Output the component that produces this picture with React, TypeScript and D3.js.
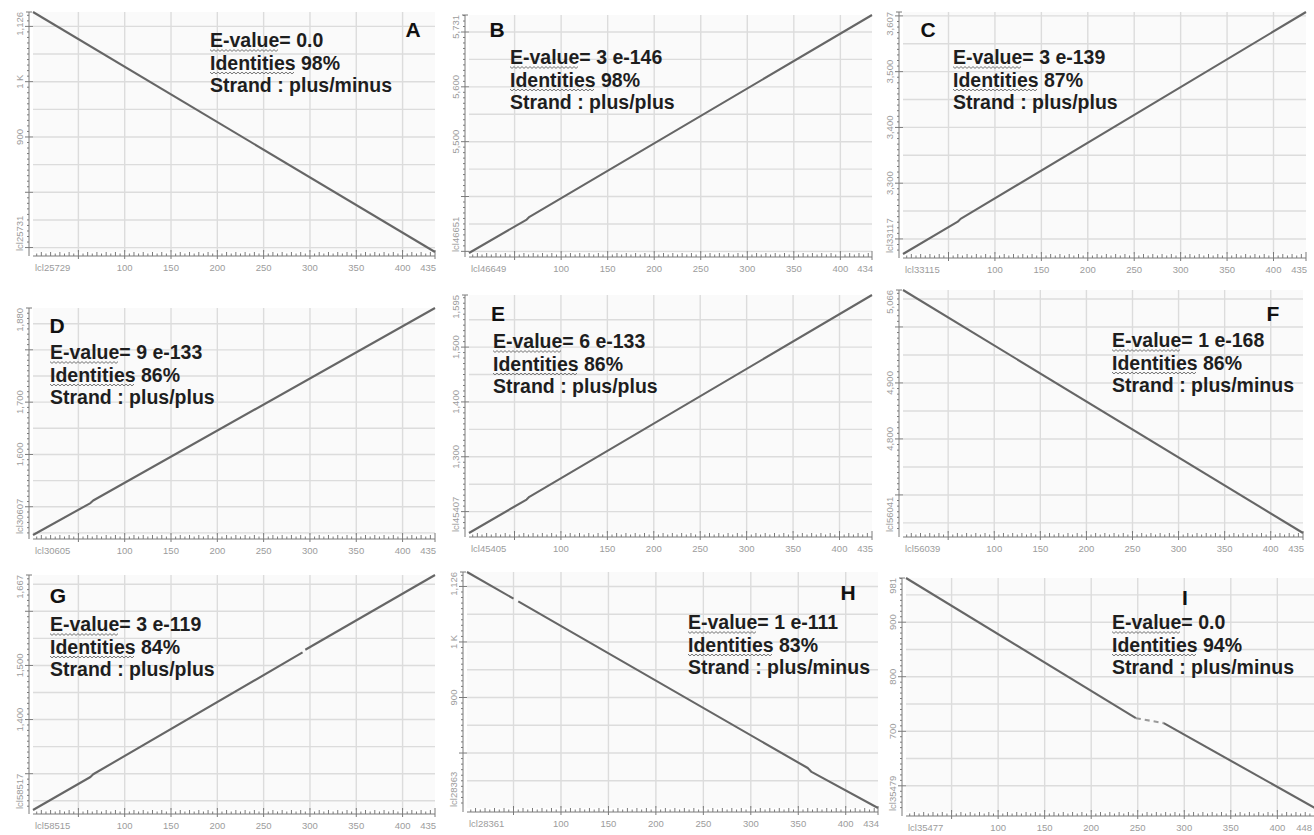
import React, { useEffect, useRef } from "react";
import * as d3 from "d3";

// --- data ---
const panelLetters = ["A", "B", "C", "D", "E", "F", "G", "H", "I"];
const queryNames = ["lcl25729", "lcl46649", "lcl33115", "lcl30605", "lcl45405", "lcl56039", "lcl58515", "lcl28361", "lcl35477"];
const subjectNames = ["lcl25731", "lcl46651", "lcl33117", "lcl30607", "lcl45407", "lcl56041", "lcl58517", "lcl28363", "lcl35479"];
const queryLengths = [435, 434, 435, 435, 435, 435, 435, 434, 448];
const subjectRanges = [
  [692, 1126], [5297, 5731], [3173, 3607],
  [1446, 1880], [1161, 1595], [4632, 5066],
  [1233, 1667], [701, 1126], [552, 981],
];
const subjectTopLabels = ["1,126", "5,731", "3,607", "1,880", "1,595", "5,066", "1,667", "1,126", "981"];
const subjectTicks: [number, string][][] = [
  [[900, "900"], [1000, "1 K"]],
  [[5500, "5,500"], [5600, "5,600"]],
  [[3300, "3,300"], [3400, "3,400"], [3500, "3,500"]],
  [[1600, "1,600"], [1700, "1,700"]],
  [[1300, "1,300"], [1400, "1,400"], [1500, "1,500"]],
  [[4800, "4,800"], [4900, "4,900"]],
  [[1400, "1,400"], [1500, "1,500"]],
  [[900, "900"], [1000, "1 K"]],
  [[700, "700"], [800, "800"], [900, "900"]],
];
const eValues = ["0.0", "3 e-146", "3 e-139", "9 e-133", "6 e-133", "1 e-168", "3 e-119", "1 e-111", "0.0"];
const identities = [98, 98, 87, 86, 86, 86, 84, 83, 94];
const strands = ["plus/minus", "plus/plus", "plus/plus", "plus/plus", "plus/plus", "plus/minus", "plus/plus", "plus/minus", "plus/minus"];
// aligned runs (query pos, subject pos); separate runs leave a gap
type Run = { points: [number, number][]; dashed?: boolean };
const alignments: Run[][] = [
  [{ points: [[1, 1126], [435, 692]] }],
  [{ points: [[1, 5297], [63, 5358], [66, 5363], [434, 5731]] }],
  [{ points: [[1, 3173], [60, 3231], [63, 3236], [435, 3607]] }],
  [{ points: [[1, 1446], [63, 1507], [66, 1512], [435, 1880]] }],
  [{ points: [[1, 1161], [63, 1222], [66, 1227], [435, 1595]] }],
  [{ points: [[1, 5066], [435, 4632]] }],
  [
    { points: [[1, 1233], [63, 1294], [66, 1299], [292, 1524]] },
    { points: [[295, 1529], [435, 1667]] },
  ],
  [
    { points: [[1, 1126], [50, 1078]] },
    { points: [[55, 1073], [360, 773], [364, 766], [434, 701]] },
  ],
  [
    { points: [[1, 981], [248, 724]] },
    { points: [[248, 724], [278, 715]], dashed: true },
    { points: [[278, 715], [448, 552]] },
  ],
];

// --- layout (pixels) ---
const plotBoxes = [
  [33, 12, 435, 252], [469, 15, 872, 253], [903, 12, 1306, 254],
  [33, 308, 435, 535], [469, 295, 872, 533], [903, 290, 1303, 533],
  [33, 575, 435, 810], [467, 572, 878, 808], [906, 578, 1322, 812],
];
const letterPos = [
  [413, 37], [497, 37], [928, 37],
  [57, 333], [498, 321], [1273, 321],
  [58, 603], [848, 600], [1185, 605],
];
const notePos = [
  [210, 40], [510, 57], [953, 57],
  [50, 352], [493, 341], [1112, 340],
  [50, 624], [688, 622], [1112, 622],
];

const FONT = "'Liberation Sans', Arial, sans-serif";
const AXIS = "#7a7a7a";
const LABEL = "#9c9c9c";

const DotPlots = () => {
  const svgRef = useRef<SVGSVGElement>(null);

  useEffect(() => {
    drawGraph();
  }, []);

  const drawGraph = () => {
    const svg = d3.select(svgRef.current);
    svg.selectAll("*").remove();

    panelLetters.forEach((letter, i) => {
      const [x0, y0, x1, y1] = plotBoxes[i];
      const len = queryLengths[i];
      const [sMin, sMax] = subjectRanges[i];
      const x = d3.scaleLinear().domain([1, len]).range([x0, x1]);
      const y = d3.scaleLinear().domain([sMin, sMax]).range([y1, y0]);
      const g = svg.append("g");

      g.append("rect")
        .attr("x", x0).attr("y", y0)
        .attr("width", x1 - x0).attr("height", y1 - y0)
        .attr("fill", "#fafafa");

      // grid every 50
      g.selectAll(".gx")
        .data(d3.range(50, len, 50))
        .join("line")
        .attr("x1", (d) => x(d)).attr("x2", (d) => x(d))
        .attr("y1", y0).attr("y2", y1)
        .attr("stroke", "#dcdcdc").attr("stroke-width", 1.4);
      g.selectAll(".gy")
        .data(d3.range(Math.ceil(sMin / 50) * 50, sMax, 50))
        .join("line")
        .attr("x1", x0).attr("x2", x1)
        .attr("y1", (d) => y(d)).attr("y2", (d) => y(d))
        .attr("stroke", "#dcdcdc").attr("stroke-width", 1.4);

      // x axis
      const ax = y1 + 4;
      g.append("line")
        .attr("x1", x0).attr("x2", x1).attr("y1", ax).attr("y2", ax)
        .attr("stroke", AXIS);
      g.selectAll(".tx")
        .data(d3.range(5, len, 5))
        .join("line")
        .attr("x1", (d) => x(d)).attr("x2", (d) => x(d))
        .attr("y1", (d) => (d % 50 === 0 ? ax + 3 : ax))
        .attr("y2", (d) => ax - (d % 50 === 0 ? 6 : d % 10 === 0 ? 4 : 2.5))
        .attr("stroke", AXIS);
      g.append("line")
        .attr("x1", x1).attr("x2", x1).attr("y1", ax + 3).attr("y2", ax - 6)
        .attr("stroke", AXIS);

      const xLabels: [number, string, string][] = [
        [1, queryNames[i], "start"],
        ...d3.range(100, len - 20, 50).map((v) => [v, String(v), "middle"] as [number, string, string]),
        [len, String(len), "end"],
      ];
      g.selectAll(".lx")
        .data(xLabels)
        .join("text")
        .attr("x", (d) => (d[2] === "start" ? x0 + 2 : d[2] === "end" ? Math.min(x1 + 1, 1312) : x(d[0])))
        .attr("y", y1 + 19)
        .attr("text-anchor", (d) => d[2])
        .attr("font-family", FONT).attr("font-size", 9.5)
        .attr("fill", LABEL)
        .text((d) => d[1]);

      // y axis
      const ay = x0 - 4;
      g.append("line")
        .attr("x1", ay).attr("x2", ay).attr("y1", y0).attr("y2", y1 + 4)
        .attr("stroke", AXIS);
      g.selectAll(".ty")
        .data(d3.range(Math.ceil(sMin / 10) * 10, sMax, 10))
        .join("line")
        .attr("x1", (d) => (d % 100 === 0 ? ay - 4 : ay - 2))
        .attr("x2", (d) => (d % 100 === 0 ? ay + 4 : ay))
        .attr("y1", (d) => y(d)).attr("y2", (d) => y(d))
        .attr("stroke", AXIS);
      g.append("line")
        .attr("x1", ay - 3).attr("x2", ay + 3).attr("y1", y0).attr("y2", y0)
        .attr("stroke", AXIS);

      const yLabels: [number, string, string][] = [
        [sMin, subjectNames[i], "start"],
        ...subjectTicks[i].map((t) => [t[0], t[1], "middle"] as [number, string, string]),
        [sMax, subjectTopLabels[i], "end"],
      ];
      g.selectAll(".ly")
        .data(yLabels)
        .join("text")
        .attr("transform", (d) => {
          const yy = d[2] === "start" ? y1 - 1 : d[2] === "end" ? y0 : y(d[0]);
          return `translate(${ay - 6},${yy}) rotate(-90)`;
        })
        .attr("text-anchor", (d) => d[2])
        .attr("font-family", FONT).attr("font-size", 9.5)
        .attr("fill", LABEL)
        .text((d) => d[1]);

      // alignment runs
      const line = d3.line<[number, number]>()
        .x((d) => x(d[0]))
        .y((d) => y(d[1]));
      g.selectAll(".seg")
        .data(alignments[i])
        .join("path")
        .attr("d", (d) => line(d.points))
        .attr("fill", "none")
        .attr("stroke", (d) => (d.dashed ? "#9a9a9a" : "#666"))
        .attr("stroke-width", 2.1)
        .attr("stroke-linejoin", "round")
        .attr("stroke-dasharray", (d) => (d.dashed ? "5,4" : null));

      // panel letter
      g.append("text")
        .attr("x", letterPos[i][0]).attr("y", letterPos[i][1])
        .attr("text-anchor", "middle")
        .attr("font-family", FONT).attr("font-weight", "bold").attr("font-size", 21)
        .attr("fill", "#111")
        .text(letter);

      // notes
      const notes = [
        { text: `E-value= ${eValues[i]}`, squiggle: 7 },
        { text: `Identities ${identities[i]}%`, squiggle: 10 },
        { text: `Strand : ${strands[i]}`, squiggle: 0 },
      ];
      const [nx, ny] = notePos[i];
      notes.forEach((n, k) => {
        const base = ny + 7 + k * 22.5;
        const t = g.append("text")
          .attr("x", nx).attr("y", base)
          .attr("font-family", FONT).attr("font-weight", "bold").attr("font-size", 19.5)
          .attr("fill", "#1e1e1e")
          .text(n.text);
        if (n.squiggle) {
          const node = t.node() as SVGTextElement;
          const w = node.getSubStringLength(0, n.squiggle);
          const pts = d3.range(0, Math.floor(w / 2) + 1).map((j) => [nx + j * 2, base + 3 + (j % 2 ? 1.4 : -0.4)] as [number, number]);
          g.append("path")
            .attr("d", d3.line()(pts))
            .attr("fill", "none")
            .attr("stroke", "#777")
            .attr("stroke-width", 1);
        }
      });
    });
  };

  return (
    <svg
      ref={svgRef}
      width="1314"
      height="835"
      style={{ position: "absolute", left: 0, top: 0, background: "#fff", display: "block" }}
    ></svg>
  );
};

export default function App() {
  return <DotPlots />;
}
